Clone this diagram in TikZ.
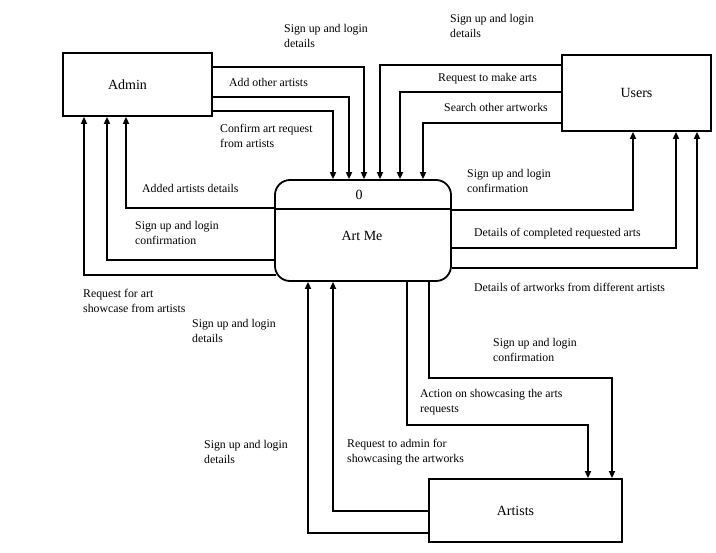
\documentclass[tikz,border=0pt]{standalone}
\usepackage{fontspec}
\setmainfont{Liberation Serif}
\usetikzlibrary{arrows.meta}
\begin{document}
\begin{tikzpicture}[x=1pt,y=-1pt,
  box/.style={draw,line width=1.8pt,inner sep=0pt,font=\fontsize{14}{16}\selectfont},
  proc/.style={box,rounded corners=15pt},
  flow/.style={line width=1.8pt,-{Triangle[length=7pt,width=6pt]}},
  line/.style={line width=1.8pt},
  lbl/.style={anchor=base west,align=left,inner sep=0pt,font=\fontsize{11.8}{15}\selectfont}]
\useasboundingbox (0,0) rectangle (716,553);
% boxes
\node[box,minimum width=149pt,minimum height=63pt,label={[xshift=-10pt,font=\fontsize{14}{16}\selectfont]center:Admin}] (admin) at (137.5,84.5) {};
\node[box,minimum width=149pt,minimum height=76pt] (users) at (636.5,93) {Users};
\node[proc,minimum width=176pt,minimum height=101pt] (artme) at (363,230.5) {};
\node[box,minimum width=193pt,minimum height=63pt,label={[xshift=-10pt,font=\fontsize{14}{16}\selectfont]center:Artists}] (artists) at (525.5,510.5) {};
\draw[line] (artme.west |- 0,209) -- (artme.east |- 0,209);
\node[font=\fontsize{14}{16}\selectfont,inner sep=0pt] (zero) at (359,195) {0};
\node[font=\fontsize{14}{16}\selectfont,inner sep=0pt] (artmelbl) at (362,236) {Art Me};
% Admin -> Art Me
\draw[flow] (admin.east |- 0,67) -| (artme.north -| 364,0);
\draw[flow] (admin.east |- 0,97) -| (artme.north -| 349,0);
\draw[flow] (admin.east |- 0,111) -| (artme.north -| 333,0);
% Users -> Art Me
\draw[flow] (users.west |- 0,65) -| (artme.north -| 380,0);
\draw[flow] (users.west |- 0,92) -| (artme.north -| 400,0);
\draw[flow] (users.west |- 0,123) -| (artme.north -| 423,0);
% Art Me -> Admin
\draw[flow] (artme.west |- 0,208) -| (admin.south -| 126,0);
\draw[flow] (artme.west |- 0,260) -| (admin.south -| 107,0);
\draw[flow] ([xshift=2pt]artme.west |- 0,275) -| (admin.south -| 84,0);
% Art Me -> Users
\draw[flow] (artme.east |- 0,210) -| (users.south -| 633,0);
\draw[flow] (artme.east |- 0,248) -| (users.south -| 676,0);
\draw[flow] (artme.east |- 0,268) -| (users.south -| 697,0);
% Artists -> Art Me
\draw[flow] (artists.west |- 0,533) -| (artme.south -| 308,0);
\draw[flow] (artists.west |- 0,511) -| (artme.south -| 333,0);
% Art Me -> Artists
\draw[flow] (artme.south -| 407,0) |- (588,425) -- (artists.north -| 588,0);
\draw[flow] (artme.south -| 429,0) |- (612,378) -- (artists.north -| 612,0);
% labels (multi-line: base = last line)
\node[lbl] (l1) at (284,48) {Sign up and login\\details};
\node[lbl] (l2) at (229,87) {Add other artists};
\node[lbl] (l3) at (220,148) {Confirm art request\\from artists};
\node[lbl] (l4) at (450,38) {Sign up and login\\details};
\node[lbl] (l5) at (438,82) {Request to make arts};
\node[lbl] (l6) at (444,112) {Search other artworks};
\node[lbl] (l7) at (467,193) {Sign up and login\\confirmation};
\node[lbl] (l8) at (142,193) {Added artists details};
\node[lbl] (l9) at (135,245) {Sign up and login\\confirmation};
\node[lbl] (l10) at (83,313) {Request for art\\showcase from artists};
\node[lbl] (l11) at (192,343) {Sign up and login\\details};
\node[lbl] (l12) at (474,237) {Details of completed requested arts};
\node[lbl] (l13) at (474,292) {Details of artworks from different artists};
\node[lbl] (l14) at (493,362) {Sign up and login\\confirmation};
\node[lbl] (l15) at (420,413) {Action on showcasing the arts\\requests};
\node[lbl] (l16) at (347,463) {Request to admin for\\showcasing the artworks};
\node[lbl] (l17) at (204,464) {Sign up and login\\details};
\end{tikzpicture}
\end{document}
